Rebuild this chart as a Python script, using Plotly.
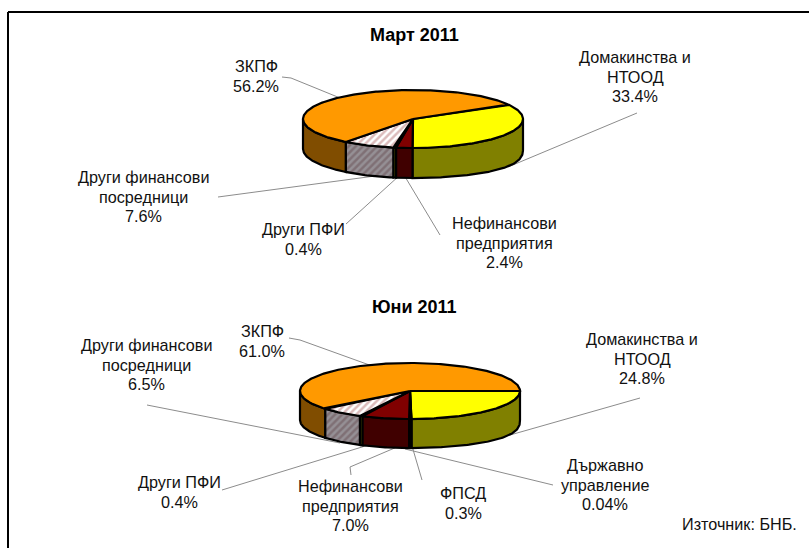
import math
import plotly.graph_objects as go

W, H = 809, 548

# ---- data ----
categories_mar = ["Домакинства и НТООД", "Нефинансови предприятия", "Други ПФИ", "Други финансови посредници", "ЗКПФ"]
values_mar = [33.4, 2.4, 0.4, 7.6, 56.2]
categories_jun = ["Домакинства и НТООД", "Държавно управление", "ФПСД", "Нефинансови предприятия", "Други ПФИ", "Други финансови посредници", "ЗКПФ"]
values_jun = [24.8, 0.04, 0.3, 7.0, 0.4, 6.5, 61.0]

# ---- styling ----
STYLE = {
    "Домакинства и НТООД": ("#FFFF00", "#808000"),
    "Нефинансови предприятия": ("#800000", "#400000"),
    "Други ПФИ": ("#999900", "#666600"),
    "Други финансови посредници": ("hatch", "hatch"),
    "ЗКПФ": ("#FF9900", "#804D00"),
    "Държавно управление": ("#00FFFF", "#008080"),
    "ФПСД": ("#000080", "#000040"),
}

fig = go.Figure()

# ---- leader lines (drawn first, the pies cover their inner ends) ----
leaders = [
    [(282, 77), (291, 78), (345, 100)],
    [(637, 113), (508, 167)],
    [(218, 197), (375, 176)],
    [(346, 224), (400, 175)],
    [(440, 235), (404, 175)],
    [(289, 338), (300, 340), (375, 367)],
    [(640, 398), (510, 435)],
    [(147, 405), (340, 443)],
    [(222, 490), (375, 443)],
    [(351, 475), (350, 467), (397, 447)],
    [(422, 480), (412, 446)],
    [(553, 485), (405, 449)],
]
for ln in leaders:
    fig.add_trace(go.Scatter(x=[p[0] for p in ln], y=[p[1] for p in ln], mode="lines",
                             hoverinfo="skip", showlegend=False,
                             line=dict(color="#8C8C8C", width=1)))


def poly(xs, ys, fill, hatch_colors=None):
    kw = dict(x=xs, y=ys, mode="lines", fill="toself", hoverinfo="skip", showlegend=False,
              line=dict(color="#000000", width=2.2))
    if hatch_colors:
        kw["fillcolor"] = hatch_colors[1]
        kw["fillpattern"] = dict(shape="/", fgcolor=hatch_colors[0], bgcolor=hatch_colors[1], size=5, solidity=0.5)
    else:
        kw["fillcolor"] = fill
    fig.add_trace(go.Scatter(**kw))


def pie3d(cats, vals, start, cx, cy, rx, ry, depth):
    total = sum(vals)
    wedges = []
    a = start
    for c, v in zip(cats, vals):
        b = a + v / total * 360
        wedges.append((c, a, b))
        a = b

    def pt(t):
        r = math.radians(t)
        return cx + rx * math.sin(r), cy - ry * math.cos(r)

    def pt_bottom(t):
        r = math.radians(t)
        c = abs(math.cos(r))
        # the lower rim is slightly fuller on the right-hand side
        k = c ** 0.75 if (t % 360) < 180 else c
        return cx + rx * math.sin(r), cy + depth + ry * k

    def arc(t1, t2, f=pt):
        n = max(2, int(abs(t2 - t1)) + 2)
        return [f(t1 + (t2 - t1) * i / (n - 1)) for i in range(n)]

    # side walls, visible only for front half (90..270 clockwise from north)
    for c, a, b in wedges:
        for shift in (0, 360):
            lo, hi = max(a, 90 + shift), min(b, 270 + shift)
            if hi <= lo:
                continue
            top = arc(lo, hi)
            bot = arc(hi, lo, pt_bottom)
            pts = top + bot + [top[0]]
            col = STYLE[c][1]
            poly([p[0] for p in pts], [p[1] for p in pts], col,
                 ("#6A5055", "#959095") if col == "hatch" else None)
    # top faces
    for c, a, b in wedges:
        pts = [(cx, cy)] + arc(a, b) + [(cx, cy)]
        col = STYLE[c][0]
        poly([p[0] for p in pts], [p[1] for p in pts], col,
             ("#B87878", "#FFFFFF") if col == "hatch" else None)


pie3d(categories_mar, values_mar, 60, 413, 119, 110, 29, 30)
pie3d(categories_jun, values_jun, 90, 410, 391, 110, 28, 29)

# ---- labels ----
FONT = "Liberation Sans"
LABEL_SIZE = 16.2
LINE_STEP = 19.5
labels = [
    (256, 66, ["ЗКПФ", "56.2%"]),
    (635, 57, ["Домакинства и", "НТООД", "33.4%"]),
    (143, 177, ["Други финансови", "посредници", "7.6%"]),
    (303, 229, ["Други ПФИ", "0.4%"]),
    (504, 223, ["Нефинансови", "предприятия", "2.4%"]),
    (262, 331, ["ЗКПФ", "61.0%"]),
    (642, 339, ["Домакинства и", "НТООД", "24.8%"]),
    (146, 345, ["Други финансови", "посредници", "6.5%"]),
    (179, 482, ["Други ПФИ", "0.4%"]),
    (350, 486, ["Нефинансови", "предприятия", "7.0%"]),
    (463, 493, ["ФПСД", "0.3%"]),
    (605, 465, ["Държавно", "управление", "0.04%"]),
]
ann = []
for x, y, lines in labels:
    for i, t in enumerate(lines):
        ann.append(dict(x=x, y=y + i * LINE_STEP, text=t, xref="x", yref="y", showarrow=False,
                        xanchor="center", yanchor="middle",
                        font=dict(family=FONT, size=LABEL_SIZE, color="#111111")))
ann.append(dict(x=414, y=35, text="<b>Март 2011</b>", xref="x", yref="y", showarrow=False,
                font=dict(family=FONT, size=18, color="#000000")))
ann.append(dict(x=414, y=307, text="<b>Юни 2011</b>", xref="x", yref="y", showarrow=False,
                font=dict(family=FONT, size=18, color="#000000")))
ann.append(dict(x=739, y=524, text="Източник: БНБ.", xref="x", yref="y", showarrow=False,
                font=dict(family=FONT, size=LABEL_SIZE, color="#111111")))

fig.update_layout(
    width=W, height=H, autosize=False,
    margin=dict(l=0, r=0, t=0, b=0),
    paper_bgcolor="white", plot_bgcolor="white",
    showlegend=False, annotations=ann,
    xaxis=dict(range=[0, W], visible=False, fixedrange=True),
    yaxis=dict(range=[H, 0], visible=False, fixedrange=True),
    shapes=[
        dict(type="line", xref="x", yref="y", x0=8, x1=8, y0=12, y1=H, line=dict(color="#000000", width=2)),
        dict(type="line", xref="x", yref="y", x0=8, x1=W, y0=12, y1=12, line=dict(color="#000000", width=2)),
    ],
)
fig.write_html("out.html", config={"displayModeBar": False},
               post_script="document.documentElement.style.margin='0';document.body.style.margin='0';document.body.style.overflow='hidden';")
